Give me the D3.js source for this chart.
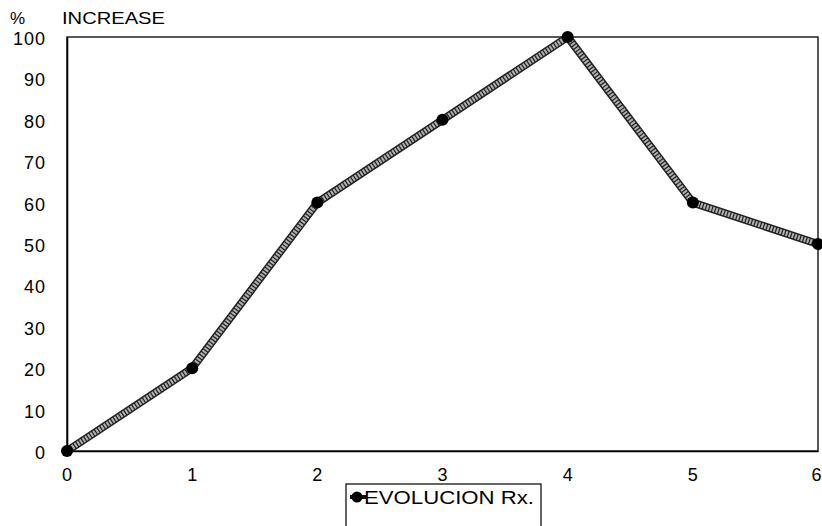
<!DOCTYPE html>
<html>
<head>
<meta charset="utf-8">
<script src="https://cdn.jsdelivr.net/npm/d3@7"></script>
<style>
  body { margin: 0; background: #fff; }
  svg text { font-family: Arial, "Liberation Sans", sans-serif; fill: #000; }
</style>
</head>
<body>
<svg id="chart" width="822" height="526"></svg>
<script>
// Evolution of Rx: percentage increase per step
const steps = [0, 1, 2, 3, 4, 5, 6];
const increase = [0, 20, 60, 80, 100, 60, 50];
const yTicks = [0, 10, 20, 30, 40, 50, 60, 70, 80, 90, 100];
const seriesName = "EVOLUCION Rx.";
const unitLabel = "%";
const yTitle = "INCREASE";

const svg = d3.select("#chart");
const margin = { left: 67, right: 4, top: 37, bottom: 75 };
const W = 822, H = 526;
const FONT = "Arial, 'Liberation Sans', sans-serif";

const x = d3.scaleLinear().domain([0, 6]).range([margin.left, W - margin.right]);
const y = d3.scaleLinear().domain([0, 100]).range([H - margin.bottom, margin.top]);

// plot frame
svg.append("rect")
  .attr("x", x(0)).attr("y", y(100))
  .attr("width", x(6) - x(0)).attr("height", y(0) - y(100))
  .attr("fill", "none").attr("stroke", "#000").attr("stroke-width", 1.3);

// axes
const xAxis = d3.axisBottom(x).tickValues(steps).tickSize(0).tickPadding(17).tickFormat(d3.format("d"));
const yAxis = d3.axisLeft(y).tickValues(yTicks).tickSize(0).tickPadding(22).tickFormat(d3.format("d"));

const gx = svg.append("g").attr("transform", `translate(0,${y(0)})`).call(xAxis);
const gy = svg.append("g").attr("transform", `translate(${x(0)},0)`).call(yAxis);
[gx, gy].forEach(g => {
  g.select(".domain").attr("stroke", "#000").attr("stroke-width", 1.6);
  g.selectAll("text").attr("font-size", 18).attr("font-family", FONT)
    .attr("letter-spacing", 1);
});
gy.selectAll("text").attr("dx", 1).attr("dy", "0.42em");
// last x label sits at the right edge; keep it inside the frame
gx.selectAll("text").filter(d => d === 6).attr("text-anchor", "end").attr("dx", 4);

// axis title
svg.append("text").attr("x", 10).attr("y", 24).attr("font-size", 17).text(unitLabel);
svg.append("text").attr("x", 62).attr("y", 24).attr("font-size", 17)
  .attr("textLength", 103).attr("lengthAdjust", "spacingAndGlyphs").text(yTitle);

// series line: dark edge with grey hatched core
const line = d3.line().x((d, i) => x(steps[i])).y(d => y(d));
svg.append("path").datum(increase).attr("d", line)
  .attr("fill", "none").attr("stroke", "#222").attr("stroke-width", 8)
  .attr("stroke-linejoin", "round");
svg.append("path").datum(increase).attr("d", line)
  .attr("fill", "none").attr("stroke", "#b0b0b0").attr("stroke-width", 5)
  .attr("stroke-dasharray", "2,1.2");

// markers
svg.append("g").selectAll("circle").data(increase).join("circle")
  .attr("cx", (d, i) => x(steps[i])).attr("cy", d => y(d)).attr("r", 6)
  .attr("fill", "#000");

// legend
const lg = svg.append("g");
lg.append("rect").attr("x", 346).attr("y", 484).attr("width", 195).attr("height", 50)
  .attr("fill", "#fff").attr("stroke", "#000").attr("stroke-width", 1.2);
lg.append("line").attr("x1", 350).attr("x2", 366).attr("y1", 497).attr("y2", 497)
  .attr("stroke", "#111").attr("stroke-width", 4);
lg.append("circle").attr("cx", 357).attr("cy", 497).attr("r", 5.5).attr("fill", "#000");
lg.append("text").attr("x", 364).attr("y", 504).attr("font-size", 18)
  .attr("textLength", 170).attr("lengthAdjust", "spacingAndGlyphs").text(seriesName);
</script>
</body>
</html>
